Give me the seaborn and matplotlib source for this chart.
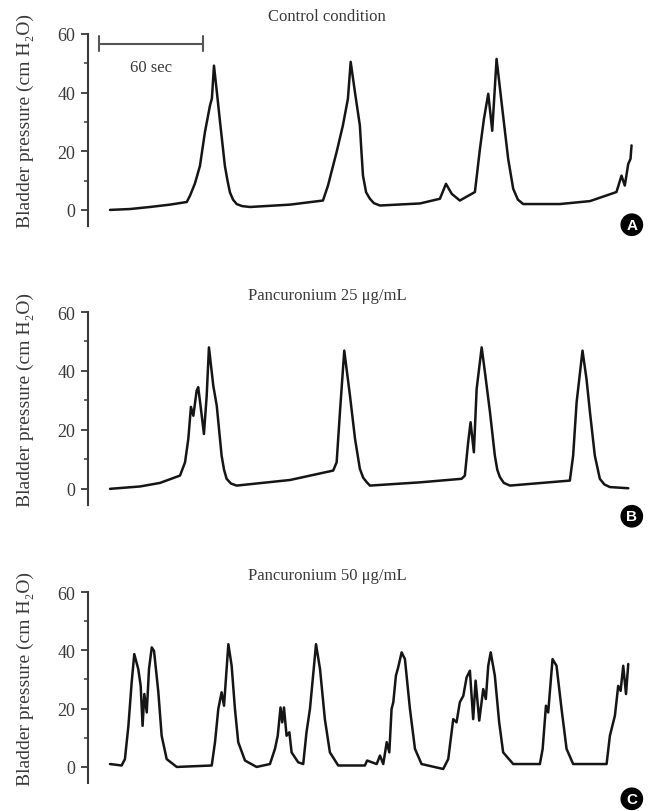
import numpy as np
import pandas as pd
import matplotlib
matplotlib.use('Agg')
import matplotlib.pyplot as plt
import seaborn as sns
from matplotlib.ticker import MultipleLocator

# bladder pressure traces (time in sec, pressure in cm H2O)
ctrl_t = [12.7, 24.2, 35.8, 47.3, 57.0, 58.9, 61.7, 64.6, 67.5, 70.4, 71.5, 72.7, 74.4, 76.2, 79.0,
          80.5, 81.9, 83.7, 85.8, 88.9, 93.5, 116.6, 135.6, 138.5, 143.5, 147.1, 150.0, 151.6,
          154.1, 156.9, 157.8, 158.7, 160.5, 162.7, 165.0, 168.5, 191.6, 203.1, 206.6, 209.9,
          214.6, 223.3, 226.2, 228.5, 231.0, 233.3, 235.8, 239.6, 242.5, 245.4, 248.1, 251.2,
          272.3, 289.7, 305.0, 307.9, 309.8, 311.8, 313.1, 313.7]
ctrl_p = [0.0, 0.3, 1.0, 1.8, 2.7, 4.9, 9.0, 15.0, 26.6, 35.6, 38.0, 49.2, 40.0, 30.0, 15.0,
          10.0, 6.0, 3.5, 2.0, 1.3, 1.0, 1.8, 3.2, 8.3, 19.8, 28.8, 37.9, 50.5,
          40.0, 28.8, 20.0, 11.7, 6.0, 3.8, 2.3, 1.5, 2.2, 3.8, 8.9, 5.5,
          3.2, 6.1, 20.8, 31.0, 39.6, 27.0, 51.5, 32.0, 17.4, 7.2, 3.5, 2.0,
          2.0, 3.0, 6.1, 11.7, 8.3, 15.7, 17.4, 22.0]

pan25_t = [12.7, 30.0, 41.5, 53.1, 56.0, 57.9, 59.4, 60.8, 62.7, 63.6, 65.2, 66.9, 68.5, 69.8,
           72.3, 74.3, 77.1, 78.5, 80.0, 82.5, 85.8, 116.6, 141.5, 143.5, 145.4, 147.9, 151.2,
           154.1, 156.9, 158.8, 160.8, 162.7, 191.6, 215.6, 217.5, 219.4, 220.8, 222.7, 224.3,
           227.2, 229.1, 232.0, 234.8, 236.2, 237.7, 240.0, 243.5, 278.1, 280.0, 282.0, 285.4,
           287.7, 289.7, 292.5, 295.4, 298.0, 301.2, 311.8]
pan25_p = [0.0, 0.8, 2.0, 4.5, 9.0, 17.0, 27.8, 24.8, 33.3, 34.5, 27.0, 18.6, 31.6, 48.0,
           35.0, 28.2, 11.3, 6.5, 3.4, 1.8, 1.1, 3.0, 6.2, 9.0, 26.0, 46.9, 31.6,
           17.0, 6.8, 3.8, 2.3, 1.1, 2.2, 3.4, 4.5, 15.8, 22.6, 12.4, 33.9,
           48.0, 39.5, 26.0, 11.3, 6.5, 4.0, 2.0, 1.1, 2.8, 11.3, 29.4, 46.9,
           37.3, 26.0, 11.3, 3.4, 1.5, 0.6, 0.2]

pan50_t = [12.7, 19.4, 21.3, 23.3, 25.2, 26.7, 29.0, 30.4, 31.5, 32.5, 33.9, 35.2, 36.8, 38.1,
           40.6, 42.5, 45.4, 51.2, 71.4, 73.3, 75.2, 77.1, 78.5, 81.0, 82.9, 84.8, 86.7, 90.6,
           97.3, 105.0, 107.9, 109.5, 111.1, 112.1, 113.1, 114.6, 116.2, 117.5, 121.3, 124.2,
           126.1, 128.1, 131.6, 133.9, 136.7, 139.6, 144.4, 159.8, 161.1, 166.6, 168.5, 170.4,
           172.4, 173.9, 175.2, 176.2, 177.7, 179.0, 181.0, 182.9, 185.8, 188.7, 192.5, 205.0,
           207.9, 210.8, 212.7, 214.6, 216.6, 218.5, 220.4, 222.3, 223.7, 225.8, 228.1, 229.6,
           231.0, 232.4, 234.8, 237.3, 239.6, 245.4, 260.8, 262.4, 264.3, 265.6, 268.1, 270.4,
           273.3, 276.2, 280.0, 299.3, 301.2, 304.1, 306.0, 307.4, 308.9, 310.5, 311.8]
pan50_p = [1.0, 0.5, 2.7, 14.0, 29.0, 38.7, 33.6, 27.8, 14.1, 25.0, 18.7, 33.6, 41.0, 39.8,
           25.6, 10.7, 2.7, 0.0, 0.5, 8.5, 19.9, 25.6, 21.0, 42.1, 34.7, 19.9, 8.5, 2.2,
           0.0, 1.0, 6.2, 10.7, 20.4, 15.3, 20.4, 10.7, 11.9, 5.0, 1.6, 1.0,
           11.9, 19.9, 42.1, 33.6, 16.4, 5.0, 0.5, 0.5, 2.2, 1.0, 3.9, 1.0,
           8.5, 5.0, 19.9, 22.2, 31.3, 34.1, 39.3, 37.0, 19.9, 6.2, 1.0, -0.7,
           2.7, 16.4, 15.3, 22.2, 24.4, 30.7, 33.0, 16.4, 29.6, 15.9, 26.7, 23.3,
           34.7, 39.3, 31.3, 15.3, 5.0, 1.0, 1.0, 6.2, 21.0, 18.7, 37.0, 34.7,
           19.9, 6.2, 1.0, 1.0, 10.7, 17.6, 27.8, 26.1, 34.7, 25.0, 35.3]

titles = ['Control condition', 'Pancuronium 25 \u03bcg/mL', 'Pancuronium 50 \u03bcg/mL']
letters = ['A', 'B', 'C']
ylabel = 'Bladder pressure (cm H\u2082O)'
scale_start = 6.4   # sec
scale_len = 60      # sec

sns.set_style('white')
plt.rcParams['font.family'] = ['Liberation Serif', 'DejaVu Serif']

traces = [(ctrl_t, ctrl_p), (pan25_t, pan25_p), (pan50_t, pan50_p)]
axes_pos = [[0.1354, 0.7204, 0.849, 0.2365],
            [0.1354, 0.3768, 0.849, 0.2377],
            [0.1354, 0.0345, 0.849, 0.2352]]
letter_pos = [(0.972, 0.722), (0.972, 0.363), (0.972, 0.015)]

fig = plt.figure(figsize=(6.5, 8.12), dpi=100)
gray = '#3a3a3a'

for i in range(3):
    ax = fig.add_axes(axes_pos[i])
    df = pd.DataFrame({'t': traces[i][0], 'p': traces[i][1]})
    sns.lineplot(data=df, x='t', y='p', ax=ax, color='#151515', linewidth=1.8,
                 sort=False, estimator=None)
    ax.set_xlim(0, 318.5)
    ax.set_ylim(-5.5, 60)
    ax.set_xlabel('')
    ax.set_ylabel(ylabel, fontsize=14, color=gray)
    ax.yaxis.set_label_coords(-0.098, 0.55)
    ax.set_yticks([0, 20, 40, 60])
    ax.yaxis.set_minor_locator(MultipleLocator(10))
    ax.set_xticks([])
    ax.tick_params(axis='y', which='major', length=5, width=1.3, color=gray,
                   labelcolor=gray, labelsize=13, pad=4, left=True)
    ax.tick_params(axis='y', which='minor', length=3, width=1.1, color=gray, left=True)
    sns.despine(ax=ax, bottom=True)
    ax.spines['left'].set_color(gray)
    ax.spines['left'].set_linewidth(1.5)
    ax.spines['left'].set_bounds(-5.5, 60)
    ax.text(0.433, 1.094 if i == 0 else 1.09, titles[i], transform=ax.transAxes,
            ha='center', va='center', fontsize=12, color=gray)
    fig.text(letter_pos[i][0], letter_pos[i][1], letters[i], ha='center', va='center',
             fontsize=11, fontweight='bold', color='white', family='Liberation Sans',
             bbox=dict(boxstyle='circle,pad=0.24', fc='black', ec='black'))
    if i == 0:
        # 60 sec scale bar
        x0, x1 = scale_start, scale_start + scale_len
        ax.plot([x0, x1], [56.7, 56.7], color='#555555', lw=1.5)
        ax.plot([x0, x0], [54.3, 59.2], color='#555555', lw=1.5)
        ax.plot([x1, x1], [54.3, 59.2], color='#555555', lw=1.5)
        ax.text((x0 + x1) / 2, 48.8, '60 sec', ha='center', va='center',
                fontsize=12, color=gray)

fig.savefig('out.png', dpi=100)
